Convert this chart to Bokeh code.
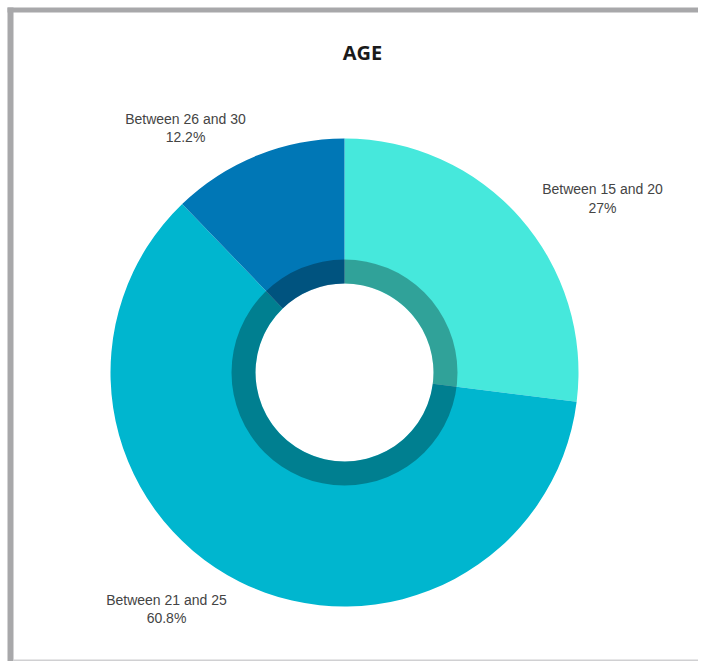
import numpy as np
from bokeh.plotting import figure
from bokeh.models import Range1d
from bokeh.core.properties import value
from bokeh.embed import file_html
from bokeh.resources import INLINE

# ---- data ----
categories = ["Between 15 and 20", "Between 21 and 25", "Between 26 and 30"]
shares = [27.0, 60.8, 12.2]
pct_labels = ["27%", "60.8%", "12.2%"]
colors = ["#46E8DC", "#00B6CF", "#0077B6"]

# ---- layout ----
W, H = 698, 661
cx, cy = 344, 289
r_outer, r_ring, r_hole = 234, 113, 89
# label anchor positions (name line, percent line) in figure pixels (y up)
label_x = [602, 166, 185]
label_y_name = [473, 62, 543]
label_y_pct = [454, 44, 525]

p = figure(width=W, height=H, output_backend="svg", toolbar_location=None,
           x_range=Range1d(0, W), y_range=Range1d(0, H),
           min_border=0, outline_line_color=None)
p.axis.visible = False
p.grid.visible = False
p.background_fill_color = "white"
p.border_fill_color = "white"

# frame
p.quad(left=[7], right=[W], bottom=[649], top=[654], fill_color="#a8a8aa", line_color=None)
p.quad(left=[7], right=[13], bottom=[0], top=[654], fill_color="#a8a8aa", line_color=None)
p.quad(left=[13], right=[W], bottom=[0], top=[2], fill_color="#d0d0d2", line_color=None)

# wedges: start at top, go clockwise
fr = np.array(shares) / sum(shares)
cum = np.concatenate([[0], np.cumsum(fr)])
start = np.pi / 2 - cum[:-1] * 2 * np.pi
end = np.pi / 2 - cum[1:] * 2 * np.pi
p.annular_wedge(x=cx, y=cy, inner_radius=r_hole, outer_radius=r_outer,
                start_angle=start, end_angle=end, direction="clock",
                fill_color=colors, line_color=None)

# dark inner ring overlay
p.annulus(x=[cx], y=[cy], inner_radius=r_hole, outer_radius=r_ring,
          fill_color="black", fill_alpha=0.3, line_color=None)

# labels
p.text(x=label_x, y=label_y_name, text=categories, text_align="center",
       text_baseline="middle", text_font=value("Liberation Sans"),
       text_font_size="14px", text_color="#444444")
p.text(x=label_x, y=label_y_pct, text=pct_labels, text_align="center",
       text_baseline="middle", text_font=value("Liberation Sans"),
       text_font_size="14px", text_color="#444444")

# title
p.text(x=[362], y=[609], text=["AGE"], text_align="center", text_baseline="middle",
       text_font=value("Open Sans"), text_font_style="bold",
       text_font_size="20px", text_color="#1a1a1a")

open("out.html", "w").write(file_html(p, INLINE))
